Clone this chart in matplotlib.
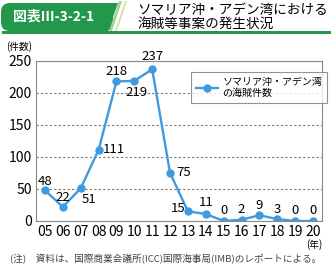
import matplotlib.pyplot as plt
from matplotlib.patches import FancyBboxPatch, Polygon, Rectangle

plt.rcParams['font.family'] = ['Noto Sans CJK JP', 'DejaVu Sans']

# data
years = list(range(5, 21))
year_labels = ['%02d' % y for y in years]
cases = [48, 22, 51, 111, 218, 219, 237, 75, 15, 11, 0, 2, 9, 3, 0, 0]
# label offsets (px) for each value label
offsets = [(0, 9), (0, 9), (8, -11), (15, 0), (0, 10), (2, -12), (0, 13),
           (14, 0), (-10, 3), (0, 11), (0, 10), (0, 10), (0, 10), (0, 10), (0, 10), (0, 10)]

W, H = 331, 266
fig = plt.figure(figsize=(W / 100, H / 100), dpi=100)

# header banner
hdr = fig.add_axes([0, 0, 1, 1])
hdr.set_xlim(0, W)
hdr.set_ylim(H, 0)
hdr.axis('off')
green = '#23974b'
hdr.add_patch(FancyBboxPatch((1, 3), 112, 28, boxstyle='round,pad=0,rounding_size=9',
                             fc=green, ec='none'))
hdr.add_patch(Polygon([[95, 3], [118, 3], [108, 31], [85, 31]], fc=green, ec='none'))
hdr.add_patch(Polygon([[119, 1], [122, 1], [112, 31], [109, 31]], fc='#a6d38b', ec='none'))
hdr.add_patch(Polygon([[125, 1], [127, 1], [117, 31], [115, 31]], fc='#cbe6a8', ec='none'))
hdr.add_patch(Rectangle((2, 31), 329, 2.5, fc=green, ec='none'))
hdr.text(13, 17, '図表Ⅲ-3-2-1', color='white', fontsize=10, fontweight='bold',
         va='center', ha='left')
hdr.text(137, 10, 'ソマリア沖・アデン湾における', fontsize=9.8, va='center', ha='left')
hdr.text(137, 24, '海賊等事案の発生状況', fontsize=9.8, va='center', ha='left')
hdr.text(6, 47, '(件数)', fontsize=7, va='center', ha='left')
hdr.text(306, 245, '(年)', fontsize=7, va='center', ha='left')
hdr.text(10, 259, '(注)　資料は、国際商業会議所(ICC)国際海事局(IMB)のレポートによる。',
         fontsize=6.9, color='#444444', va='center', ha='left')

ax = fig.add_axes([36 / W, 45 / H, 286 / W, 160 / H])
line_color = '#3f9ae0'
ax.plot(years, cases, color=line_color, lw=1.7, marker='o', ms=5,
        label='ソマリア沖・アデン湾\nの海賊件数')
for x, y, (dx, dy) in zip(years, cases, offsets):
    ax.annotate(str(y), (x, y), xytext=(dx * 0.72, dy * 0.72), textcoords='offset points',
                ha='center', va='center', fontsize=9.5)

ax.set_xlim(4.5, 20.5)
ax.set_ylim(0, 250)
ax.set_xticks(years)
ax.set_xticklabels(year_labels)
ax.set_yticks([0, 50, 100, 150, 200, 250])
ax.tick_params(length=0, labelsize=10, pad=3)
ax.yaxis.grid(True, ls=(0, (2, 2)), color='#777777', lw=0.8)
for s in ax.spines.values():
    s.set_color('#888888')
    s.set_linewidth(0.8)

leg = ax.legend(loc='upper left', bbox_to_anchor=(186 / W, 1 - 67 / H), bbox_transform=fig.transFigure,
                fancybox=False, edgecolor='#777777', fontsize=7.2, handlelength=2.2,
                borderpad=0.45, labelspacing=0.2, handletextpad=0.5)
leg.get_frame().set_linewidth(0.8)

fig.savefig('out.png', dpi=100)
